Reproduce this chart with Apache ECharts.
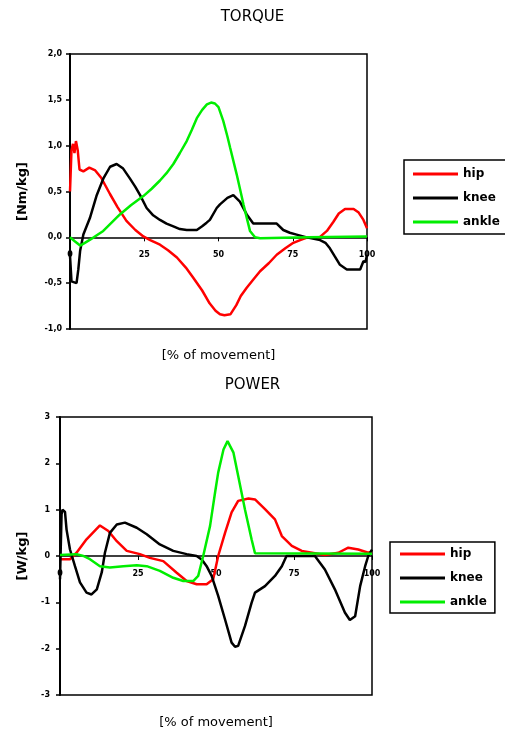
<!DOCTYPE html>
<html>
<head>
<meta charset="utf-8">
<script src="https://cdn.jsdelivr.net/npm/echarts@6/dist/echarts.min.js"></script>
<style>
html,body{margin:0;padding:0;background:#fff;}
#chart{width:505px;height:731px;}
</style>
</head>
<body>
<div id="chart"></div>
<script>
// ---- DATA ----
var seriesNames = ['hip', 'knee', 'ankle'];
var xTicks = [0, 25, 50, 75, 100];

var hipTorque = [[0,0.5],[0.5,0.95],[1,1.02],[1.5,0.92],[2,1.05],[2.6,0.95],[3.2,0.74],[4.5,0.72],[6.5,0.76],[8.5,0.73],[10.5,0.65],[13.5,0.47],[16,0.33],[19,0.18],[22,0.08],[24.7,0.01],[27,-0.03],[30.3,-0.08],[33,-0.14],[36,-0.22],[39,-0.33],[41.5,-0.44],[44.5,-0.58],[47,-0.72],[49,-0.8],[50.5,-0.84],[52,-0.85],[54,-0.84],[56,-0.74],[57.5,-0.64],[59.5,-0.55],[62,-0.45],[64,-0.37],[67,-0.28],[69.6,-0.19],[72.5,-0.12],[75.2,-0.06],[77.5,-0.03],[80,0],[84,0],[86.5,0.07],[88.7,0.17],[90.5,0.26],[92.6,0.31],[95.5,0.31],[97.2,0.27],[98.8,0.19],[100,0.1]];
var kneeTorque = [[0,-0.2],[0.5,-0.48],[1.1,-0.5],[2.2,-0.5],[2.8,-0.35],[3.4,-0.15],[4.5,0.03],[6.7,0.21],[9,0.46],[11.2,0.64],[13.5,0.77],[15.7,0.8],[17.9,0.75],[20.2,0.64],[22,0.55],[23.6,0.46],[25.8,0.32],[28,0.24],[30.3,0.19],[32.5,0.15],[34.8,0.12],[37,0.09],[39.3,0.08],[42.7,0.08],[44.5,0.12],[46,0.16],[47.1,0.19],[49.4,0.32],[50.5,0.36],[53,0.43],[55,0.46],[57.2,0.39],[59.5,0.25],[61.7,0.15],[69.6,0.15],[71.8,0.08],[74,0.05],[76.3,0.03],[79.7,0],[84.2,-0.03],[86,-0.06],[87.5,-0.12],[89,-0.2],[90.9,-0.3],[93.2,-0.35],[97.7,-0.35],[98.8,-0.26],[99.5,-0.27],[100,-0.19]];
var ankleTorque = [[0,0],[1.5,-0.04],[3.4,-0.09],[5,-0.06],[8,0],[11.2,0.07],[14,0.16],[16.8,0.25],[20.5,0.35],[24.7,0.45],[27.5,0.53],[30.3,0.62],[32.5,0.7],[34.8,0.8],[37,0.92],[39.3,1.05],[41,1.17],[42.7,1.3],[44.5,1.39],[46.1,1.45],[47.5,1.47],[48.8,1.46],[50,1.42],[51.6,1.27],[53,1.1],[53.9,0.98],[56.1,0.69],[58.4,0.36],[60.6,0.07],[62.3,0],[64,-0.01],[80,0],[100,0.01]];

var hipPower = [[0,-0.07],[3.2,-0.07],[5.3,0.07],[8.5,0.36],[12.8,0.66],[15.5,0.54],[18.2,0.32],[21.4,0.11],[25.6,0.04],[28.8,-0.04],[33.1,-0.11],[37.4,-0.36],[40.6,-0.54],[43.8,-0.61],[47,-0.61],[49.1,-0.5],[50.7,0],[52.9,0.5],[55,0.94],[57.1,1.19],[60.4,1.24],[62.5,1.22],[65.7,1.01],[68.9,0.79],[71.1,0.43],[74.3,0.22],[77.5,0.11],[81.7,0.06],[84.9,0.02],[89.2,0.07],[92.4,0.18],[95.6,0.14],[98.8,0.07],[100,0.1]];
var kneePower = [[0,-0.5],[0.5,0.9],[0.8,1.0],[1.6,0.95],[2.1,0.57],[3.2,0.14],[4.8,-0.22],[6.4,-0.57],[8.5,-0.79],[10.1,-0.83],[11.8,-0.72],[13.4,-0.35],[14.4,0.07],[16,0.5],[18.2,0.68],[20.8,0.72],[24.6,0.61],[27.8,0.47],[32,0.25],[36.3,0.11],[40.6,0.04],[43.8,0],[45.5,-0.08],[47,-0.22],[48.6,-0.43],[50.7,-0.86],[52.9,-1.37],[55,-1.87],[56.1,-1.96],[57.1,-1.94],[59.3,-1.51],[61.4,-1.01],[62.5,-0.79],[65.7,-0.65],[68.9,-0.43],[71.1,-0.22],[72.6,0],[81.7,0],[84.9,-0.29],[88.1,-0.72],[91.3,-1.22],[92.9,-1.38],[94.6,-1.3],[96.2,-0.65],[97.8,-0.22],[98.8,0],[100,0.14]];
var anklePower = [[0,0.02],[5.3,0.04],[7.5,0],[9.6,-0.07],[12.8,-0.22],[16,-0.25],[20.3,-0.22],[24.6,-0.2],[27.8,-0.22],[32,-0.32],[36.3,-0.47],[39.5,-0.54],[42.7,-0.54],[44.3,-0.43],[45.9,0],[48.1,0.65],[49.7,1.37],[50.7,1.8],[52.4,2.3],[53.7,2.48],[55.6,2.23],[57.1,1.73],[59.3,1.0],[61.4,0.36],[62.5,0.06],[100,0.05]];

// ---- CHART ----
var colors = ['#ff0000', '#000000', '#00ee00'];
var chart = echarts.init(document.getElementById('chart'), null, {renderer: 'canvas'});
var fontFam = 'DejaVu Sans, Verdana, sans-serif';

// grid geometry (layout only)
var g0 = {left: 70, right: 138, top: 54, bottom: 402};
var g1 = {left: 60, right: 133, top: 417, bottom: 36};
var H = 731;
var g0h = H - g0.top - g0.bottom;   // px for range -1..2
var g1h = H - g1.top - g1.bottom;   // px for range -3..3
var off0 = -g0h * (1 / 3);          // zero line offset from grid bottom
var off1 = -g1h * (3 / 6);

function xAxisDef(gridIndex, gap, offset) {
  return {
    type: 'value', gridIndex: gridIndex, min: 0, max: 100, interval: 25,
    position: 'bottom', offset: offset,
    name: '[% of movement]', nameLocation: 'middle', nameGap: gap,
    nameTextStyle: {fontFamily: fontFam, fontSize: 13, color: '#000'},
    axisLine: {onZero: false, lineStyle: {color: '#000', width: 1.5}},
    axisTick: {show: true, length: 4, lineStyle: {color: '#000', width: 1}},
    axisLabel: {fontFamily: fontFam, fontSize: 8, fontWeight: 'bold', color: '#000', margin: 14},
    splitLine: {show: false}
  };
}
function yAxisDef(gridIndex, min, max, interval, name, gap, fmt, margin) {
  return {
    type: 'value', gridIndex: gridIndex, min: min, max: max, interval: interval,
    name: name, nameLocation: 'middle', nameGap: gap,
    nameTextStyle: {fontFamily: fontFam, fontSize: 13, fontWeight: 'bold', color: '#000'},
    axisLine: {show: true, onZero: false, lineStyle: {color: '#000', width: 2}},
    axisTick: {show: true, length: 4, lineStyle: {color: '#000', width: 1.5}},
    axisLabel: {fontFamily: fontFam, fontSize: 8, fontWeight: 'bold', color: '#000', margin: margin, formatter: fmt},
    splitLine: {show: false}
  };
}
function lineSeries(name, data, color, xi, yi) {
  return {
    type: 'line', name: name, data: data, xAxisIndex: xi, yAxisIndex: yi,
    showSymbol: false, symbol: 'none', smooth: false,
    lineStyle: {color: color, width: 2.5}, itemStyle: {color: color},
    animation: false
  };
}
function legendDef(left, top, padding) {
  return {
    data: seriesNames, orient: 'vertical', left: left, top: top,
    icon: 'rect', itemWidth: 45, itemHeight: 3, itemGap: 12,
    backgroundColor: '#fff', borderColor: '#000', borderWidth: 1.5,
    padding: padding, selectedMode: false,
    textStyle: {fontFamily: fontFam, fontSize: 12, fontWeight: 'bold', color: '#000'}
  };
}
function gridDef(g) {
  return {left: g.left, right: g.right, top: g.top, bottom: g.bottom, show: true,
    borderColor: '#000', borderWidth: 1.5, backgroundColor: '#fff',
    containLabel: false, outerBoundsMode: 'none'};
}

var option = {
  backgroundColor: '#fff',
  animation: false,
  color: colors,
  title: [
    {text: 'TORQUE', left: 'center', top: 5, textStyle: {fontFamily: fontFam, fontSize: 15, fontWeight: 'normal', color: '#000'}},
    {text: 'POWER', left: 'center', top: 373, textStyle: {fontFamily: fontFam, fontSize: 15, fontWeight: 'normal', color: '#000'}}
  ],
  legend: [
    legendDef(404, 160, [8, 22, 6, 9]),
    legendDef(390, 542, [6, 8, 5, 10])
  ],
  grid: [gridDef(g0), gridDef(g1)],
  xAxis: [xAxisDef(0, 112, off0), xAxisDef(1, 160, off1)],
  yAxis: [
    yAxisDef(0, -1, 2, 0.5, '[Nm/kg]', 41, function (v) { return v.toFixed(1).replace('.', ','); }, 8),
    yAxisDef(1, -3, 3, 1, '[W/kg]', 31, function (v) { return String(v); }, 10)
  ],
  series: [
    lineSeries('hip', hipTorque, colors[0], 0, 0),
    lineSeries('knee', kneeTorque, colors[1], 0, 0),
    lineSeries('ankle', ankleTorque, colors[2], 0, 0),
    lineSeries('hip', hipPower, colors[0], 1, 1),
    lineSeries('knee', kneePower, colors[1], 1, 1),
    lineSeries('ankle', anklePower, colors[2], 1, 1)
  ]
};
chart.setOption(option);
</script>
</body>
</html>
